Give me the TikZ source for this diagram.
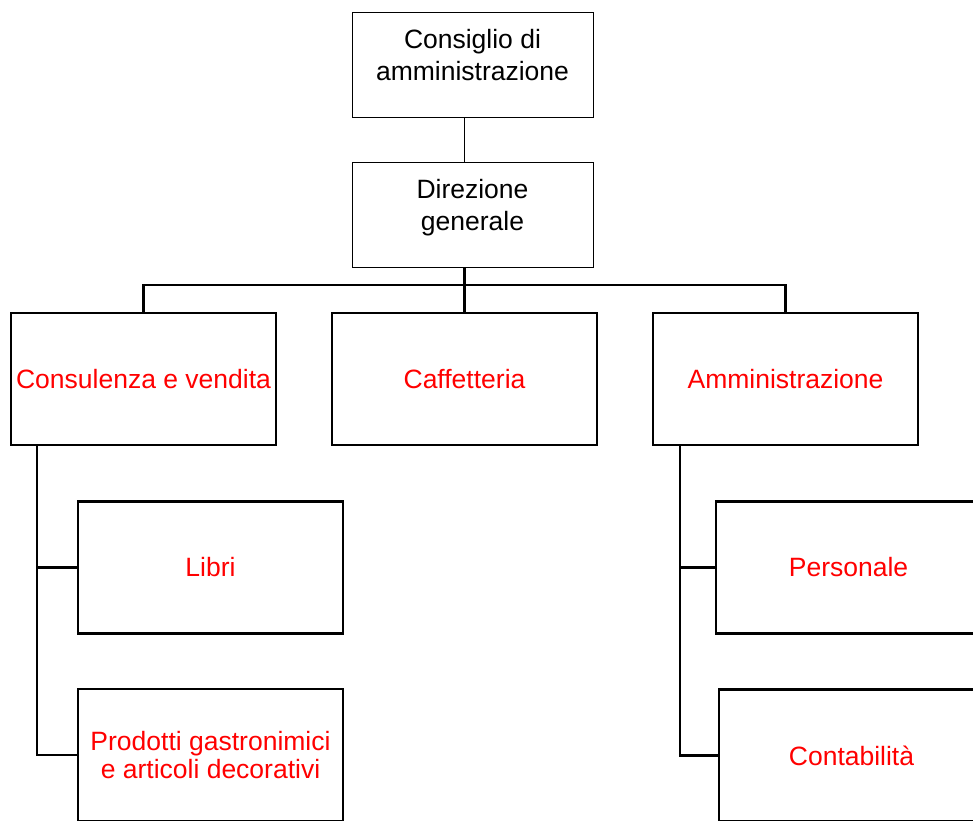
\documentclass[tikz,border=0pt]{standalone}
\usepackage{fontspec}
\setmainfont{Liberation Sans}
\tikzset{
  topbox/.style={draw, line width=1pt, minimum width=241pt, minimum height=105pt, align=center, inner sep=0pt, text depth=20pt},
  unitbox/.style={draw, line width=2.2pt, minimum width=265pt, minimum height=132pt, align=center, text=red, inner sep=0pt},
  thinlink/.style={line width=1pt},
  link/.style={line width=2.2pt}
}
\begin{document}
\begin{tikzpicture}[x=1pt, y=-1pt, font=\fontsize{26.5}{32}\selectfont]
\clip (0,0) rectangle (973,820);
\node[topbox] (cda) at (472.5,64.5) {Consiglio di\\amministrazione};
\node[topbox] (dg) at (472.5,215) {Direzione\\generale};
\node[unitbox] (cv) at (143.5,379) {Consulenza e vendita};
\node[unitbox] (caf) at (464.5,379) {Caffetteria};
\node[unitbox] (amm) at (785.5,379) {Amministrazione};
\node[unitbox] (libri) at (210.5,567.5) {Libri};
\node[unitbox, font=\fontsize{26.5}{27.5}\selectfont] (prod) at (210.5,755) {Prodotti gastronimici\\e articoli decorativi};
\node[unitbox] (pers) at (848.5,567.5) {Personale};
\node[unitbox] (cont) at (851.5,755.5) {Contabilit\`a};
\coordinate (bus) at (464.5,285);
\coordinate (cvx) at (37,445);
\coordinate (ammx) at (680,445);
% connectors
\draw[thinlink] (cda.south -| caf.north) -- (dg.north -| caf.north);
\draw[link] (dg.south -| caf.north) -- (caf.north);
\draw[link] (cv.north) |- (bus) -| (amm.north);
\draw[link] (cvx) |- (libri.west);
\draw[link] (cvx) |- (prod.west);
\draw[link] (ammx) |- (pers.west);
\draw[link] (ammx) |- (cont.west);
\end{tikzpicture}
\end{document}
